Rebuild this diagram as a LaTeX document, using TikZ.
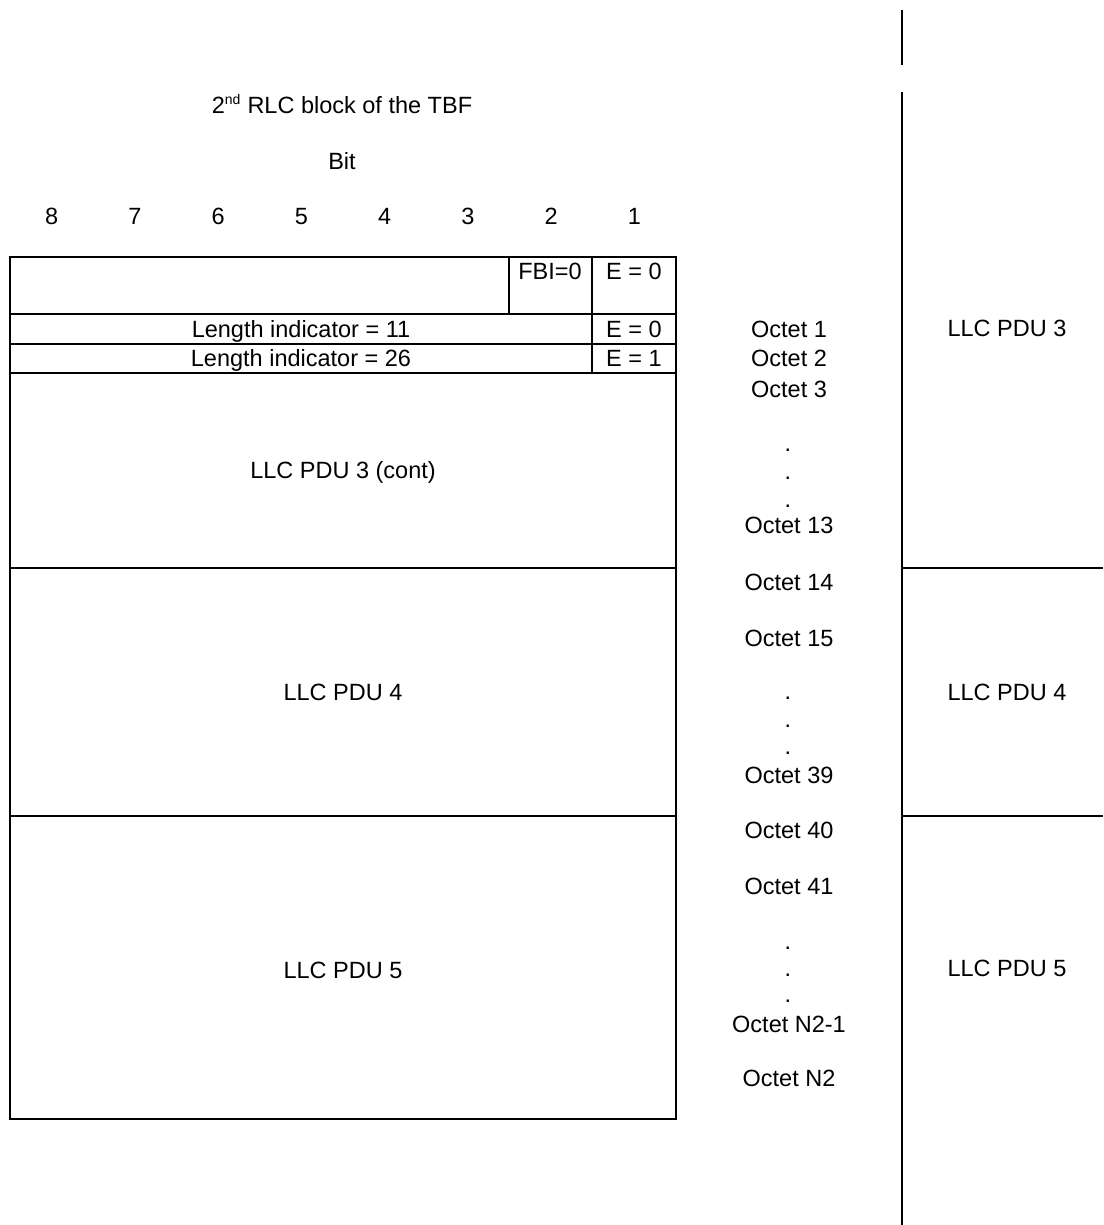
\documentclass[tikz,border=0pt]{standalone}
\usepackage{fontspec}
\setmainfont{Liberation Sans}
\begin{document}
\begin{tikzpicture}[x=1pt,y=-1pt,
  rule/.style={line width=2pt, line cap=rect},
  txt/.style={inner sep=0pt, text height=17pt, text depth=0pt, font=\fontsize{23.5}{28}\selectfont},
  dotnode/.style={inner sep=0pt, anchor=base, font=\fontsize{23.5}{28}\selectfont}]
\useasboundingbox (0,0) rectangle (1103,1225);
% ---- box ----
\draw[rule] (10,257) rectangle (676,1119);
\draw[rule] (10,314) -- (676,314);
\draw[rule] (10,344) -- (676,344);
\draw[rule] (10,373) -- (676,373);
\draw[rule] (10,568) -- (676,568);
\draw[rule] (10,816) -- (676,816);
\draw[rule] (509,257) -- (509,314);
\draw[rule] (592,257) -- (592,373);
% ---- right column ----
\draw[rule, line cap=butt] (902,10) -- (902,65);
\draw[rule, line cap=butt] (902,92) -- (902,1225);
\draw[rule, line cap=butt] (902,568) -- (1103,568);
\draw[rule, line cap=butt] (902,816) -- (1103,816);
% ---- headings ----
\node[txt] (title) at (342,105) {2\textsuperscript{\fontsize{14}{16}\selectfont nd} RLC block of the TBF};
\node[txt] (bit) at (342,161) {Bit};
\foreach \n [count=\i from 0] in {8,7,6,5,4,3,2,1}
  \node[txt] (b\n) at ({51.6+83.25*\i},216) {\n};
% ---- box texts ----
\node[txt] (fbi) at (550,271) {FBI=0};
\node[txt] (e0a) at (634,271) {E = 0};
\node[txt] (li11) at (301,329) {Length indicator = 11};
\node[txt] (e0b) at (634,329) {E = 0};
\node[txt] (li26) at (301,358) {Length indicator = 26};
\node[txt] (e1) at (634,358) {E = 1};
\node[txt] (pdu3c) at (343,470) {LLC PDU 3 (cont)};
\node[txt] (pdu4) at (343,692) {LLC PDU 4};
\node[txt] (pdu5) at (343,970) {LLC PDU 5};
% ---- octets ----
\node[txt] (o1) at (789,329) {Octet 1};
\node[txt] (o2) at (789,358) {Octet 2};
\node[txt] (o3) at (789,389) {Octet 3};
\node[dotnode] (d1a) at (788,451) {.};
\node[dotnode] (d1b) at (788,479) {.};
\node[dotnode] (d1c) at (788,507) {.};
\node[txt] (o13) at (789,525) {Octet 13};
\node[txt] (o14) at (789,582) {Octet 14};
\node[txt] (o15) at (789,638) {Octet 15};
\node[dotnode] (d2a) at (788,699) {.};
\node[dotnode] (d2b) at (788,727) {.};
\node[dotnode] (d2c) at (788,754) {.};
\node[txt] (o39) at (789,775) {Octet 39};
\node[txt] (o40) at (789,830) {Octet 40};
\node[txt] (o41) at (789,886) {Octet 41};
\node[dotnode] (d3a) at (788,949) {.};
\node[dotnode] (d3b) at (788,976) {.};
\node[dotnode] (d3c) at (788,1002) {.};
\node[txt] (on21) at (789,1024) {Octet N2-1};
\node[txt] (on2) at (789,1078) {Octet N2};
% ---- right labels ----
\node[txt] (r3) at (1007,328) {LLC PDU 3};
\node[txt] (r4) at (1007,692) {LLC PDU 4};
\node[txt] (r5) at (1007,968) {LLC PDU 5};
\end{tikzpicture}
\end{document}
